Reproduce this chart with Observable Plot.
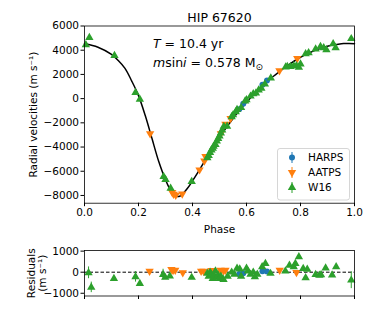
<!DOCTYPE html>
<html><head><meta charset="utf-8">
<script src="https://cdn.jsdelivr.net/npm/d3@7"></script>
<script src="https://cdn.jsdelivr.net/npm/@observablehq/plot@0.6"></script>
<style>
body{margin:0;background:#fff}
#chart{position:relative;width:374px;height:312px;font-family:"DejaVu Sans"}
#chart svg{position:absolute;left:0;top:0}
</style></head><body><div id="chart"></div>
<script>
// ---------- data ----------
const title = "HIP 67620";
const seriesNames = ["HARPS", "AATPS", "W16"];
const seriesColors = ["#1f77b4", "#ff7f0e", "#2ca02c"];
const xTicks = [0, 0.2, 0.4, 0.6, 0.8, 1.0];
const yTicks = [-8000, -6000, -4000, -2000, 0, 2000, 4000, 6000];
const resTicks = [-1000, 0, 1000];

// model curve (phase, RV)
const curvePhase = [0, 0.05, 0.1, 0.125, 0.15, 0.175, 0.2, 0.225, 0.25, 0.275, 0.3, 0.32, 0.34, 0.35, 0.36, 0.38, 0.4, 0.42, 0.44, 0.46, 0.48, 0.5, 0.52, 0.54, 0.56, 0.58, 0.6, 0.62, 0.64, 0.66, 0.68, 0.7, 0.72, 0.74, 0.76, 0.78, 0.8, 0.82, 0.84, 0.86, 0.88, 0.9, 0.92, 0.94, 0.96, 0.98, 1.0];
const curveRV = [4530, 4250, 3650, 3150, 2500, 1450, 250, -1400, -3300, -5200, -6700, -7600, -8050, -8080, -7950, -7450, -6800, -6100, -5350, -4600, -3900, -3200, -2550, -1950, -1350, -800, -300, 200, 650, 1100, 1500, 1850, 2200, 2550, 2850, 3150, 3400, 3650, 3850, 4050, 4200, 4330, 4430, 4500, 4550, 4560, 4540];

// HARPS
const harpsPhase = [0.573, 0.588, 0.659, 0.676];
const harpsRV = [-880, -430, 1150, 1500];
const harpsResPhase = [0.573, 0.588, 0.659, 0.676];
const harpsRes = [-80, -50, 50, 30];

// AATPS
const aatpsPhase = [0.243, 0.325, 0.330, 0.338, 0.362, 0.426, 0.444, 0.448, 0.505, 0.522, 0.541, 0.722, 0.788];
const aatpsRV = [-2890, -7750, -7900, -7980, -7880, -5880, -5140, -4780, -2900, -2100, -1630, 2310, 3330];
const aatpsResPhase = [0.241, 0.322, 0.328, 0.336, 0.364, 0.432, 0.441, 0.470, 0.504, 0.515, 0.522, 0.723, 0.785];
const aatpsRes = [50, 130, 80, 100, -20, 50, 50, 80, 100, 60, 100, 100, -15];

// W16
const w16Phase = [0.005, 0.018, 0.111, 0.189, 0.205, 0.293, 0.300, 0.319, 0.397, 0.455, 0.460, 0.465, 0.470, 0.475, 0.478, 0.485, 0.490, 0.495, 0.500, 0.505, 0.510, 0.516, 0.528, 0.545, 0.550, 0.560, 0.565, 0.580, 0.595, 0.600, 0.615, 0.625, 0.635, 0.645, 0.655, 0.668, 0.690, 0.745, 0.751, 0.763, 0.775, 0.785, 0.794, 0.800, 0.819, 0.830, 0.856, 0.874, 0.886, 0.896, 0.921, 0.930, 0.988];
const w16RV = [4450, 5050, 3560, 500, -50, -6440, -6690, -7420, -6860, -4900, -4700, -4450, -4250, -4100, -3950, -3800, -3500, -3300, -3100, -2850, -2600, -2300, -2280, -1500, -1350, -1100, -900, -750, -200, -100, 200, 400, 450, 700, 850, 1200, 1700, 2600, 2640, 2640, 2700, 2720, 2580, 2860, 3700, 3780, 4100, 4300, 4200, 4030, 4530, 4200, 4950];
const w16ResPhase = [0.015, 0.025, 0.109, 0.189, 0.205, 0.291, 0.299, 0.316, 0.397, 0.455, 0.460, 0.465, 0.470, 0.475, 0.480, 0.485, 0.490, 0.495, 0.500, 0.505, 0.515, 0.530, 0.545, 0.555, 0.565, 0.575, 0.580, 0.600, 0.605, 0.615, 0.625, 0.631, 0.640, 0.658, 0.670, 0.689, 0.744, 0.759, 0.775, 0.781, 0.794, 0.810, 0.819, 0.825, 0.856, 0.870, 0.876, 0.893, 0.917, 0.932, 0.988];
const w16Res = [-30, -720, -300, -220, -540, -110, -250, -180, -250, -50, -200, 0, -100, -300, -150, 50, -250, -150, -300, -200, -350, -200, 0, -100, 180, 150, -200, 180, 50, -100, 0, -220, -100, 250, 410, -60, 50, 330, 250, 410, 730, 170, -270, 140, -110, -150, -120, 200, -140, 250, -380];
const w16ResErr = [280, 250, 60, 250, 60, 250, 60, 60, 60, 60, 60, 60, 60, 60, 60, 60, 60, 60, 60, 60, 60, 60, 60, 60, 60, 60, 60, 60, 60, 60, 60, 60, 60, 60, 60, 60, 60, 60, 60, 60, 60, 60, 60, 60, 60, 60, 60, 60, 60, 60, 400];

// ---------- build tables ----------
const zip = (xs, ys, extra) => xs.map((x, i) => ({x, y: ys[i], e: extra ? extra[i] : 0}));
const curve = zip(curvePhase, curveRV);
const harps = zip(harpsPhase, harpsRV), aatps = zip(aatpsPhase, aatpsRV), w16 = zip(w16Phase, w16RV);
const harpsR = zip(harpsResPhase, harpsRes), aatpsR = zip(aatpsResPhase, aatpsRes), w16R = zip(w16ResPhase, w16Res, w16ResErr);

const sqrt3 = Math.sqrt(3);
const triUp = {draw(c, size) { const y = -Math.sqrt(size / (sqrt3 * 3)); c.moveTo(0, y * 2); c.lineTo(-sqrt3 * y, -y); c.lineTo(sqrt3 * y, -y); c.closePath(); }};
const triDown = {draw(c, size) { const y = -Math.sqrt(size / (sqrt3 * 3)); c.moveTo(0, -y * 2); c.lineTo(-sqrt3 * y, y); c.lineTo(sqrt3 * y, y); c.closePath(); }};
const circ = {draw(c, size) { const r = Math.sqrt(size / Math.PI); c.moveTo(r, 0); c.arc(0, 0, r, 0, 2 * Math.PI); }};
const symbols = [circ, triDown, triUp];
const radii = [3, 3.1, 3.1];

const W = 374, H = 312;
const FONT = "DejaVu Sans";
const common = {width: W, height: H, marginLeft: 84, marginRight: 20,
  style: {fontFamily: FONT, fontSize: "10.5px", background: "transparent", color: "black", overflow: "visible"}};

function pts(data, k) {
  return Plot.dot(data, {x: "x", y: "y", symbol: symbols[k], r: radii[k], fill: seriesColors[k], stroke: "none"});
}
const fmtInt = d => d3.format("d")(d).replace("-", "\u2212");

const main = Plot.plot({
  ...common,
  marginTop: 25.5, marginBottom: H - 202.7,
  x: {domain: [0, 1]},
  y: {domain: [-8640, 6000]},
  marks: [
    Plot.axisX({ticks: xTicks, tickSize: 3.5, tickPadding: 2, tickFormat: d3.format(".1f"), fontSize: 10.5,
      label: "Phase", labelAnchor: "center", labelOffset: 30, labelArrow: "none"}),
    Plot.axisY({ticks: yTicks, tickSize: 3.5, tickPadding: 2, tickFormat: fmtInt, fontSize: 10.5,
      label: "Radial velocities (m s\u207B\u00B9)", labelAnchor: "center", labelOffset: 55, labelArrow: "none"}),
    Plot.line(curve, {x: "x", y: "y", stroke: "black", strokeWidth: 1.5, curve: "catmull-rom"}),
    pts(harps, 0), pts(aatps, 1), pts(w16, 2),
    Plot.frame({stroke: "black", strokeWidth: 0.8}),
    Plot.text([title], {frameAnchor: "top", lineAnchor: "bottom", dy: -4, fontSize: 12.5, fill: "black"})
  ]
});

const resid = Plot.plot({
  ...common,
  marginTop: 250, marginBottom: H - 295.5,
  x: {domain: [0, 1]},
  y: {domain: [-1130, 1030]},
  marks: [
    Plot.axisX({ticks: xTicks, tickSize: 3.5, tickFormat: () => "", label: null}),
    Plot.axisY({ticks: resTicks, tickSize: 3.5, tickPadding: 2, tickFormat: fmtInt, fontSize: 10.5, label: null}),
    Plot.text(["Residuals\n(m s\u207B\u00B9)"], {frameAnchor: "left", dx: -48, rotate: -90, lineHeight: 1.05, fontSize: 10.5, fill: "black", textAnchor: "middle", lineAnchor: "middle"}),
    Plot.ruleY([0], {stroke: "black", strokeWidth: 1, strokeDasharray: "3.5,2"}),
    Plot.ruleX(harpsR, {x: "x", y1: d => d.y - 60, y2: d => d.y + 60, stroke: seriesColors[0]}),
    Plot.ruleX(aatpsR, {x: "x", y1: d => d.y - 60, y2: d => d.y + 60, stroke: seriesColors[1]}),
    Plot.ruleX(w16R, {x: "x", y1: d => d.y - d.e, y2: d => d.y + d.e, stroke: seriesColors[2]}),
    pts(harpsR, 0), pts(aatpsR, 1), pts(w16R, 2),
    Plot.frame({stroke: "black", strokeWidth: 0.8})
  ]
});

const host = document.getElementById("chart");
host.appendChild(main);
host.appendChild(resid);

// annotation text
const svg = d3.select(main);
const ann = svg.append("g").attr("font-family", FONT).attr("font-size", 12.5).attr("fill", "black").attr("text-anchor", "start");
const t1 = ann.append("text").attr("x", 153).attr("y", 47.5);
t1.append("tspan").attr("font-style", "italic").text("T");
t1.append("tspan").text(" = 10.4 yr");
const t2 = ann.append("text").attr("x", 153).attr("y", 67);
t2.append("tspan").attr("font-style", "italic").text("m");
t2.append("tspan").text("sin");
t2.append("tspan").attr("font-style", "italic").text("i");
t2.append("tspan").text(" = 0.578 M");
t2.append("tspan").attr("font-size", 9).attr("dy", 2.5).text("\u2299");

// legend
const lg = svg.append("g").attr("font-family", FONT).attr("font-size", 10.5).attr("text-anchor", "start");
lg.append("rect").attr("x", 277.5).attr("y", 148.5).attr("width", 72).attr("height", 51.5).attr("rx", 2.5)
  .attr("fill", "white").attr("fill-opacity", 0.85).attr("stroke", "#cccccc").attr("stroke-width", 0.8);
seriesNames.forEach((name, k) => {
  const cy = 157.5 + k * 15;
  lg.append("line").attr("x1", 292).attr("x2", 292).attr("y1", cy - 5.5).attr("y2", cy + 5.5).attr("stroke", seriesColors[k]).attr("stroke-width", 1);
  lg.append("path").attr("transform", `translate(292,${cy})`).attr("fill", seriesColors[k])
    .attr("d", d3.symbol(symbols[k], Math.PI * radii[k] * radii[k])());
  lg.append("text").attr("x", 308).attr("y", cy).attr("dy", "0.35em").attr("fill", "black").text(name);
});
</script></body></html>
